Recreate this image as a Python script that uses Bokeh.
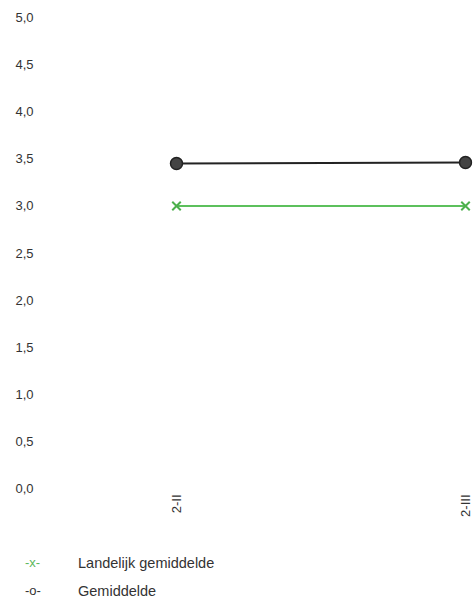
import math
from bokeh.plotting import figure
from bokeh.layouts import column
from bokeh.models import FixedTicker, Range1d, Div
from bokeh.embed import file_html
from bokeh.resources import INLINE

categories = ["2-II", "2-III"]
gemiddelde = [3.45, 3.46]
landelijk = [3.0, 3.0]
y_ticks = [0.0, 0.5, 1.0, 1.5, 2.0, 2.5, 3.0, 3.5, 4.0, 4.5, 5.0]
legend_labels = ["Landelijk gemiddelde", "Gemiddelde"]
legend_symbols = ["-x-", "-o-"]
legend_colors = ["#5cb85c", "#333333"]

FONT = "Liberation Sans"
xs = list(range(len(categories)))

p = figure(width=476, height=538, output_backend="svg", toolbar_location=None,
           x_range=Range1d(-0.4706, 1.0242), y_range=Range1d(-0.02, 5.074),
           min_border_left=40, min_border_right=4, min_border_top=10, min_border_bottom=48)
p.outline_line_color = None
p.grid.visible = False

p.yaxis.ticker = FixedTicker(ticks=y_ticks)
p.yaxis.major_label_overrides = {t: f"{t:.1f}".replace(".", ",") for t in y_ticks}
p.xaxis.ticker = FixedTicker(ticks=xs)
p.xaxis.major_label_overrides = {i: c for i, c in enumerate(categories)}
p.xaxis.major_label_orientation = math.pi / 2
for ax in (p.xaxis, p.yaxis):
    ax.axis_line_color = None
    ax.major_tick_line_color = None
    ax.minor_tick_line_color = None
    ax.major_tick_out = 0
    ax.major_label_text_font = FONT
    ax.major_label_text_font_size = "13px"
    ax.major_label_text_color = "#333333"
p.yaxis.major_label_standoff = 7
p.xaxis.major_label_standoff = 4

p.line(xs, landelijk, line_color="#5cc05c", line_width=2)
p.scatter(xs, landelijk, marker="x", size=12, line_color="#4cb04c", line_width=2)
p.line(xs, gemiddelde, line_color="#222222", line_width=2)
p.scatter(xs, gemiddelde, marker="circle", size=12, fill_color="#444444", line_color="#222222", line_width=1.5)

rows = []
for i, (sym, lab, col) in enumerate(zip(legend_symbols, legend_labels, legend_colors)):
    top = 17 + i * 28
    rows.append(
        f'<span style="position:absolute;left:25px;top:{top}px;line-height:16px;'
        f'font-size:13px;color:{col};">{sym}</span>'
        f'<span style="position:absolute;left:78px;top:{top}px;line-height:16px;'
        f'font-size:14.5px;color:#333333;">{lab}</span>'
    )
legend_html = (f'<div style="position:relative;width:476px;height:62px;'
               f'font-family:\'{FONT}\';">' + "".join(rows) + '</div>')
lg = Div(text=legend_html, width=476, height=62, margin=(0, 0, 0, 0))

layout = column(p, lg, spacing=0)
open("out.html", "w").write(file_html(layout, INLINE))
